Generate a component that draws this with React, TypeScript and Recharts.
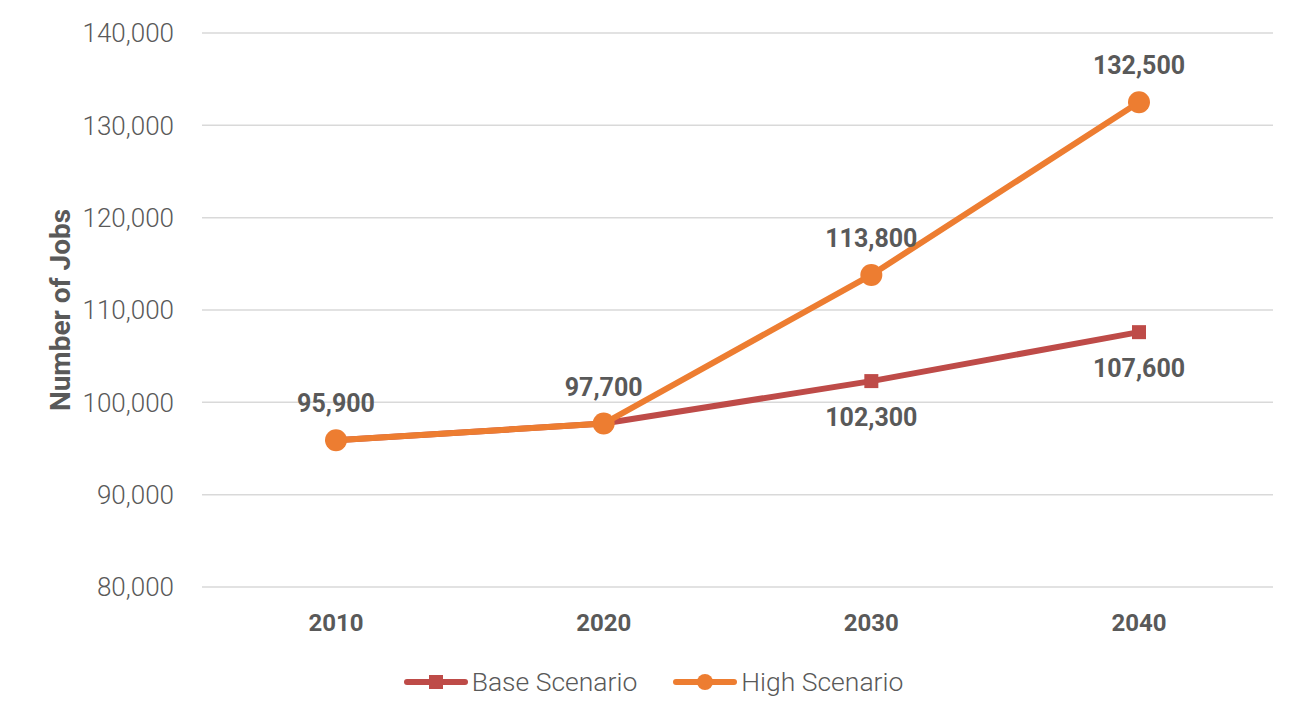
import { CartesianGrid, LabelList, Line, LineChart, XAxis, YAxis } from "recharts";

const years = ["2010", "2020", "2030", "2040"];
const baseJobs = [95900, 97700, 102300, 107600];
const highJobs = [95900, 97700, 113800, 132500];
// base labels at 2010/2020 sit under the high ones, so only the last two show
const baseLabelShown = [false, false, true, true];
const yTicks = [80000, 90000, 100000, 110000, 120000, 130000, 140000];

const BASE = "#BE4B48";
const HIGH = "#ED7D31";
const TEXT = "#595959";
const FONT = "Roboto, 'Noto Sans', sans-serif";

const data = years.map((year, i) => ({
  year,
  base: baseJobs[i],
  high: highJobs[i],
  baseLabel: baseLabelShown[i] ? baseJobs[i] : null,
}));

const fmt = (v: any) => (v == null ? "" : Number(v).toLocaleString("en-US"));

const SquareDot = (props: any) => {
  const { cx, cy, index } = props;
  if (cx == null || cy == null) return null;
  return <rect key={`sq-${index}`} x={cx - 7} y={cy - 7} width={14} height={14} fill={BASE} />;
};

const LegendContent = () => (
  <div
    style={{
      display: "flex",
      justifyContent: "center",
      alignItems: "center",
      gap: 36,
      fontFamily: FONT,
      fontSize: 26.5,
      fontWeight: 300,
      color: TEXT,
    }}
  >
    <div style={{ display: "flex", alignItems: "center", gap: 4 }}>
      <svg width={64} height={20}>
        <line x1={3} y1={10} x2={61} y2={10} stroke={BASE} strokeWidth={6} strokeLinecap="round" />
        <rect x={25} y={3} width={14} height={14} fill={BASE} />
      </svg>
      <span>Base Scenario</span>
    </div>
    <div style={{ display: "flex", alignItems: "center", gap: 4 }}>
      <svg width={64} height={20}>
        <line x1={3} y1={10} x2={61} y2={10} stroke={HIGH} strokeWidth={6} strokeLinecap="round" />
        <circle cx={32} cy={10} r={8} fill={HIGH} />
      </svg>
      <span>High Scenario</span>
    </div>
  </div>
);

export default function App() {
  return (
    <div style={{ position: "absolute", left: 0, top: 0, width: 1307, height: 704, background: "#fff" }}>
      <LineChart
        width={1307}
        height={704}
        data={data}
        margin={{ top: 33, right: 34, bottom: 87, left: 0 }}
        style={{ fontFamily: FONT }}
      >
        <CartesianGrid vertical={false} stroke="#d9d9d9" strokeWidth={1.5} />
        <XAxis
          dataKey="year"
          height={30}
          padding={{ left: 134, right: 134 }}
          axisLine={false}
          tickLine={false}
          tickSize={0}
          tickMargin={27}
          tick={{ fill: TEXT, fontSize: 24, fontWeight: 700 }}
        />
        <YAxis
          width={202}
          domain={[80000, 140000]}
          ticks={yTicks}
          axisLine={false}
          tickLine={false}
          tickSize={0}
          tickMargin={28}
          tickFormatter={fmt}
          tick={{ fill: TEXT, fontSize: 26, fontWeight: 300 }}
          label={{
            value: "Number of Jobs",
            angle: -90,
            position: "insideLeft",
            offset: 60,
            style: { textAnchor: "middle", fill: TEXT, fontSize: 28, fontWeight: 700 },
          }}
        />
        <Line
          dataKey="base"
          stroke={BASE}
          strokeWidth={6}
          dot={<SquareDot />}
          activeDot={false}
          isAnimationActive={false}
        >
          <LabelList
            dataKey="baseLabel"
            position="bottom"
            offset={27}
            formatter={fmt}
            style={{ fill: TEXT, fontSize: 25, fontWeight: 700 }}
          />
        </Line>
        <Line
          dataKey="high"
          stroke={HIGH}
          strokeWidth={6}
          dot={{ r: 11, fill: HIGH, stroke: HIGH, strokeWidth: 0 }}
          activeDot={false}
          isAnimationActive={false}
        >
          <LabelList
            dataKey="high"
            position="top"
            offset={28}
            formatter={fmt}
            style={{ fill: TEXT, fontSize: 25, fontWeight: 700 }}
          />
        </Line>
      </LineChart>
      <div style={{ position: "absolute", left: 0, top: 666, width: 1307 }}>
        <LegendContent />
      </div>
    </div>
  );
}
